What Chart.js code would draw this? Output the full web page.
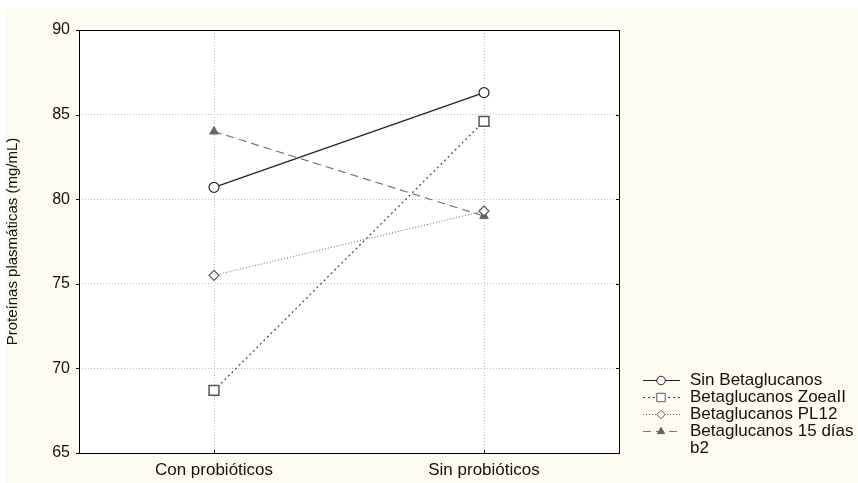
<!DOCTYPE html>
<html>
<head>
<meta charset="utf-8">
<script src="https://cdn.jsdelivr.net/npm/chart.js@4"></script>
<style>
  body { margin: 0; background: #ffffff; }
  #wrap { width: 858px; height: 483px; }
</style>
</head>
<body>
<div id="wrap"><canvas id="myChart" width="858" height="483"></canvas></div>
<script>
// categories along the x-axis
var grupos = ["Con probióticos", "Sin probióticos"];
// one array per line
var sinBeta = [80.7, 86.3];
var betaZoeal = [68.7, 84.6];
var betaPL12 = [75.5, 79.3];
var beta15dias = [84.0, 79.0];
var etiquetas = ["Sin Betaglucanos", "Betaglucanos ZoeaII", "Betaglucanos PL12", ["Betaglucanos 15 días", "b2"]];
var yTicks = [65, 70, 75, 80, 85, 90];

var font = "'Liberation Sans', Arial, sans-serif";

function drawMarker(c, st, x, y, r) {
  if (st === 'circle') { c.arc(x, y, r, 0, Math.PI * 2); }
  else if (st === 'rect') { var s = r * Math.SQRT1_2; c.rect(x - s, y - s, 2 * s, 2 * s); }
  else if (st === 'rectRot') { c.moveTo(x, y - r); c.lineTo(x + r, y); c.lineTo(x, y + r); c.lineTo(x - r, y); c.closePath(); }
  else { c.moveTo(x, y - r); c.lineTo(x + r * 0.87, y + r * 0.5); c.lineTo(x - r * 0.87, y + r * 0.5); c.closePath(); }
}

// cream page background + black frame round the plot
var fondo = {
  id: 'fondo',
  beforeDraw: function(chart) {
    var c = chart.ctx;
    c.save();
    c.fillStyle = "#fefcf0";
    c.fillRect(6, 9, chart.width - 6, chart.height - 9);
    var a = chart.chartArea;
    c.fillStyle = "#ffffff";
    c.fillRect(a.left, a.top, a.right - a.left, a.bottom - a.top);
    c.restore();
  },
  afterDatasetsDraw: function(chart) {
    var c = chart.ctx;
    var a = chart.chartArea;
    c.save();
    c.strokeStyle = "#000";
    c.lineWidth = 1;
    c.strokeRect(a.left + 0.5, a.top + 0.5, a.right - a.left, a.bottom - a.top);
    // little tick marks
    var y = chart.scales.y;
    yTicks.forEach(function(v) {
      var py = Math.round(y.getPixelForValue(v)) + 0.5;
      c.beginPath();
      c.moveTo(a.left - 3, py); c.lineTo(a.left, py);
      c.moveTo(a.right - 3, py); c.lineTo(a.right, py);
      c.stroke();
    });
    var x = chart.scales.x;
    grupos.forEach(function(g, i) {
      var px = Math.round(x.getPixelForValue(i)) + 0.5;
      c.beginPath();
      c.moveTo(px, a.bottom); c.lineTo(px, a.bottom - 3);
      c.stroke();
    });
    c.restore();
  }
};

// legend: line sample with marker, like the original
var leyenda = {
  id: 'leyenda',
  afterDraw: function(chart) {
    var c = chart.ctx;
    c.save();
    var x0 = 643, y0 = 380, paso = 17;
    chart.data.datasets.forEach(function(ds, i) {
      var yy = y0 + i * paso + 0.5;
      c.strokeStyle = ds.borderColor;
      c.lineWidth = 1;
      c.setLineDash(ds.borderDash || []);
      c.beginPath();
      c.moveTo(x0, yy); c.lineTo(x0 + 37, yy);
      c.stroke();
      c.setLineDash([]);
      c.fillStyle = ds.pointBackgroundColor;
      c.strokeStyle = ds.pointBorderColor;
      c.beginPath();
      drawMarker(c, ds.pointStyle, x0 + 18, yy, ds.pointRadius * 0.85);
      c.fill(); c.stroke();
      c.fillStyle = "#111";
      c.font = "17px " + font;
      c.textBaseline = "middle";
      var t = etiquetas[i];
      if (Array.isArray(t)) {
        t.forEach(function(l, k) { c.fillText(l, x0 + 47, yy + k * 17); });
      } else {
        c.fillText(t, x0 + 47, yy);
      }
    });
    c.restore();
  }
};

var ctx = document.getElementById("myChart");
var myChart = new Chart(ctx, {
  type: 'line',
  data: {
    labels: grupos,
    datasets: [
      {
        label: "Sin Betaglucanos",
        data: sinBeta,
        borderColor: "#222",
        borderWidth: 1.2,
        pointStyle: 'circle',
        pointRadius: 5,
        pointBackgroundColor: "#fff",
        pointBorderColor: "#222",
        pointBorderWidth: 1.2
      },
      {
        label: "Betaglucanos ZoeaII",
        data: betaZoeal,
        borderColor: "#444",
        borderWidth: 1.2,
        borderDash: [2, 3],
        pointStyle: 'rect',
        pointRadius: 7,
        pointBackgroundColor: "#fff",
        pointBorderColor: "#555",
        pointBorderWidth: 1.5
      },
      {
        label: "Betaglucanos PL12",
        data: betaPL12,
        borderColor: "#666",
        borderWidth: 1,
        borderDash: [1, 2],
        pointStyle: 'rectRot',
        pointRadius: 5,
        pointBackgroundColor: "#fff",
        pointBorderColor: "#555",
        pointBorderWidth: 1.2
      },
      {
        label: "Betaglucanos 15 días b2",
        data: beta15dias,
        borderColor: "#777",
        borderWidth: 1.2,
        borderDash: [8, 5],
        pointStyle: 'triangle',
        pointRadius: 5,
        pointBackgroundColor: "#666",
        pointBorderColor: "#666",
        pointBorderWidth: 1
      }
    ]
  },
  options: {
    responsive: false,
    animation: false,
    layout: { padding: { top: 30, right: 239, left: 0, bottom: 0 } },
    plugins: {
      legend: { display: false },
      tooltip: { enabled: false }
    },
    scales: {
      x: {
        offset: true,
        grid: { offset: false, color: "#bdbdbd", drawTicks: false },
        border: { display: false, dash: [1, 2] },
        ticks: { color: "#111", font: { family: font, size: 17 }, padding: 7 },
        afterFit: function(s) { s.height = 30; }
      },
      y: {
        min: 65,
        max: 90,
        afterBuildTicks: function(s) { s.ticks = yTicks.map(function(v) { return { value: v }; }); },
        grid: { color: "#bdbdbd", drawTicks: false },
        border: { display: false, dash: [1, 2] },
        ticks: { color: "#111", font: { family: font, size: 16 }, padding: 9 },
        title: {
          display: true,
          text: "Proteínas plasmáticas (mg/mL)",
          color: "#111",
          font: { family: font, size: 15 },
          padding: { top: 4, bottom: 0 }
        },
        afterFit: function(s) { s.width = 79; }
      }
    }
  },
  plugins: [fondo, leyenda]
});
</script>
</body>
</html>
